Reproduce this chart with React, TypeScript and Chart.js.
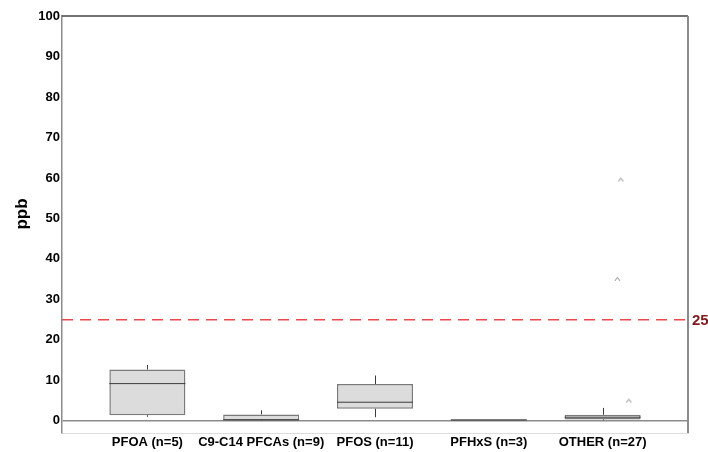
import { useEffect, useRef } from 'react';
import { Chart, registerables } from 'chart.js';

Chart.register(...registerables);

// Compound groups and their box-plot statistics (ppb)
const categories = ['PFOA (n=5)', 'C9-C14 PFCAs (n=9)', 'PFOS (n=11)', 'PFHxS (n=3)', 'OTHER (n=27)'];
const whiskerLow = [1.0, 0.0, 0.9, 0.0, 0.1];
const q1 = [1.4, 0.1, 3.0, 0.0, 0.35];
const median = [9.2, 0.25, 4.6, 0.2, 0.9];
const q3 = [12.7, 1.6, 9.1, 0.4, 1.5];
const whiskerHigh = [13.8, 2.6, 11.2, 0.4, 3.2];

// Outliers (x given in category units, slightly jittered)
const outlierX = [4.16, 4.13, 4.23];
const outlierY = [59.6, 35.1, 5.0];

// Reference level and axis ticks
const thresholdValue = 25;
const yTicks = [0, 10, 20, 30, 40, 50, 60, 70, 80, 90, 100];

const FONT = '"Liberation Sans", Arial, sans-serif';

function caretImage(): HTMLCanvasElement {
  const c = document.createElement('canvas');
  c.width = 7;
  c.height = 6;
  const g = c.getContext('2d')!;
  g.strokeStyle = '#8a8a8a';
  g.lineWidth = 1;
  g.beginPath();
  g.moveTo(1, 5);
  g.lineTo(3.5, 1.5);
  g.lineTo(6, 5);
  g.stroke();
  return c;
}

const boxDetails = {
  id: 'boxDetails',
  afterDatasetsDraw(chart: any) {
    const meta = chart.getDatasetMeta(0);
    const y = chart.scales.y;
    const ctx: CanvasRenderingContext2D = chart.ctx;
    ctx.save();
    ctx.strokeStyle = '#3c3c3c';
    ctx.lineWidth = 1;
    meta.data.forEach((bar: any, i: number) => {
      const { x, width } = bar.getProps(['x', 'width'], true);
      const xs = Math.round(x) + 0.5;
      ctx.beginPath();
      ctx.moveTo(xs, y.getPixelForValue(q3[i]));
      ctx.lineTo(xs, y.getPixelForValue(whiskerHigh[i]));
      ctx.moveTo(xs, y.getPixelForValue(q1[i]));
      ctx.lineTo(xs, y.getPixelForValue(whiskerLow[i]));
      ctx.stroke();
      const my = y.getPixelForValue(median[i]);
      ctx.beginPath();
      ctx.moveTo(x - width / 2, my);
      ctx.lineTo(x + width / 2, my);
      ctx.stroke();
    });
    ctx.restore();
  },
};

const frameAndThreshold = {
  id: 'frameAndThreshold',
  afterDraw(chart: any) {
    const { ctx, chartArea } = chart;
    const y = chart.scales.y;
    ctx.save();
    // top and right frame
    ctx.strokeStyle = '#444444';
    ctx.lineWidth = 1.5;
    ctx.beginPath();
    ctx.moveTo(chartArea.left, chartArea.top);
    ctx.lineTo(chartArea.right, chartArea.top);
    ctx.stroke();
    ctx.strokeStyle = '#8a8a8a';
    ctx.lineWidth = 2;
    ctx.beginPath();
    ctx.moveTo(chartArea.right, chartArea.top);
    ctx.lineTo(chartArea.right, chartArea.bottom);
    ctx.stroke();

    // dashed reference line
    const ty = y.getPixelForValue(thresholdValue);
    ctx.strokeStyle = '#ea4a4a';
    ctx.lineWidth = 1.5;
    ctx.setLineDash([11, 7]);
    ctx.beginPath();
    ctx.moveTo(chartArea.left, ty);
    ctx.lineTo(chartArea.right - 1, ty);
    ctx.stroke();
    ctx.setLineDash([]);
    ctx.fillStyle = '#7b1c1c';
    ctx.font = `bold 15px ${FONT}`;
    ctx.textAlign = 'left';
    ctx.textBaseline = 'middle';
    ctx.fillText(String(thresholdValue), chartArea.right + 4, ty + 1);

    // y axis title
    ctx.save();
    ctx.translate(22, 214);
    ctx.rotate(-Math.PI / 2);
    ctx.fillStyle = '#000';
    ctx.font = `bold 17px ${FONT}`;
    ctx.textAlign = 'center';
    ctx.textBaseline = 'middle';
    ctx.fillText('ppb', 0, 0);
    ctx.restore();
    ctx.restore();
  },
};

export default function App() {
  const ref = useRef<HTMLCanvasElement | null>(null);

  useEffect(() => {
    if (!ref.current) return;
    const chart = new Chart(ref.current, {
      type: 'bar',
      data: {
        datasets: [
          {
            type: 'bar',
            data: categories.map((_, i) => ({ x: i, y: [q1[i], q3[i]] })) as any,
            backgroundColor: '#dcdcdc',
            borderColor: '#7a7a7a',
            borderWidth: 1.5,
            borderSkipped: false,
            categoryPercentage: 1,
            barPercentage: 0.668,
          },
          {
            type: 'scatter',
            data: outlierX.map((x, i) => ({ x, y: outlierY[i] })),
            pointStyle: caretImage() as any,
            pointRadius: 3,
          } as any,
        ],
      },
      options: {
        animation: false,
        responsive: false,
        layout: { padding: { left: 0, top: 16, right: 20, bottom: 0 } },
        plugins: { legend: { display: false }, tooltip: { enabled: false } },
        scales: {
          x: {
            type: 'linear',
            min: -0.75,
            max: 4.75,
            offset: false,
            grid: { display: false, drawTicks: false, offset: false },
            border: { display: true, color: '#dcdcdc', width: 1 },
            afterBuildTicks: (scale: any) => {
              scale.ticks = categories.map((_, i) => ({ value: i }));
            },
            afterFit: (scale: any) => {
              scale.height = 19;
            },
            ticks: {
              autoSkip: false,
              maxRotation: 0,
              padding: 2,
              color: '#000',
              font: { family: FONT, size: 13, weight: 'bold' },
              callback: (v: any) => categories[v as number] ?? '',
            },
          },
          y: {
            type: 'linear',
            min: -3,
            max: 100,
            grid: {
              display: true,
              drawTicks: false,
              color: (c: any) => (c.tick && c.tick.value === 0 ? '#8c8c8c' : 'rgba(0,0,0,0)'),
              lineWidth: 1.5,
            },
            border: { display: true, color: '#8c8c8c', width: 1.5 },
            afterBuildTicks: (scale: any) => {
              scale.ticks = yTicks.map((v) => ({ value: v }));
            },
            afterFit: (scale: any) => {
              scale.width = 62;
            },
            ticks: {
              padding: 2,
              color: '#000',
              font: { family: FONT, size: 13, weight: 'bold' },
            },
          },
        },
      },
      plugins: [boxDetails, frameAndThreshold],
    });
    return () => chart.destroy();
  }, []);

  return (
    <div style={{ position: 'fixed', left: 0, top: 0, width: 708, height: 452, background: '#fff' }}>
      <canvas ref={ref} width={708} height={452} />
    </div>
  );
}
